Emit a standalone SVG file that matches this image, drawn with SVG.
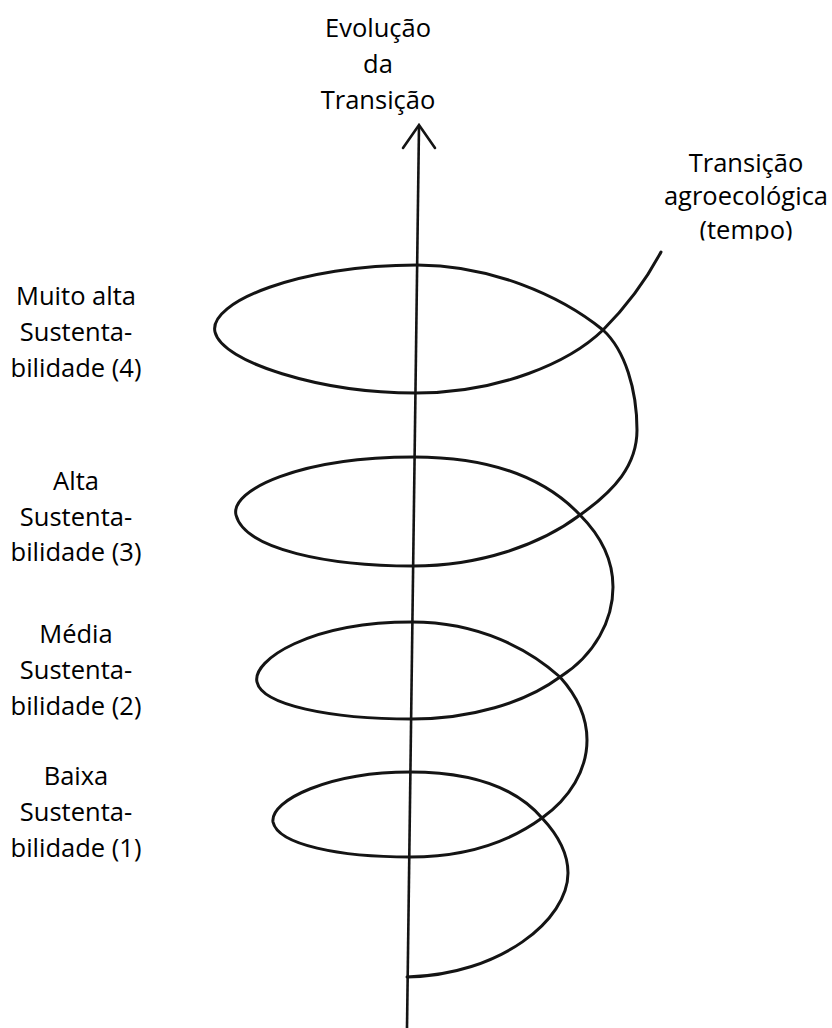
<svg xmlns="http://www.w3.org/2000/svg" width="832" height="1028" viewBox="0 0 832 1028">
  <style>
    .lbl { font-family: "Open Sans", "Liberation Sans", sans-serif; font-size: 25.5px; fill: #000; text-anchor: middle; }
    .curve { fill: none; stroke: #141414; stroke-width: 3; stroke-linecap: round; stroke-linejoin: round; }
    .axis { fill: none; stroke: #141414; stroke-width: 2.6; stroke-linecap: butt; }
    .head { fill: none; stroke: #141414; stroke-width: 2.6; stroke-linecap: round; stroke-linejoin: miter; }
  </style>
  <defs>
    <clipPath id="clipTempo">
      <rect x="600" y="200" width="232" height="40.5"/>
    </clipPath>
  </defs>
  <rect width="832" height="1028" fill="#ffffff"/>

  <g id="connectors">
    <g id="axis">
      <line class="axis" x1="407" y1="1028" x2="419" y2="126"/>
      <polyline class="head" points="403,148 419,125 435,148"/>
    </g>
    <path id="spiral" class="curve" d="M 661 252
      C 645 282, 625 308, 603 330
      C 570 362, 500 393, 416 393
      C 320 393, 222 362, 215 332
      C 208 302, 300 265, 417 265
      C 490 265, 560 295, 603 330
      C 625 350, 637 390, 637 430
      C 637 465, 615 490, 580 515
      C 540 545, 480 566, 413 566
      C 330 566, 245 550, 236 515
      C 230 490, 300 457, 414 457
      C 490 457, 545 478, 580 515
      C 600 535, 613 560, 613 587
      C 613 620, 595 655, 560 677
      C 525 703, 470 719, 412 719
      C 330 719, 262 705, 257 682
      C 252 660, 310 622, 412 622
      C 480 622, 530 650, 560 677
      C 578 697, 587 718, 587 740
      C 587 770, 570 798, 542 818
      C 505 845, 460 857, 410 857
      C 340 857, 278 845, 273 822
      C 270 800, 330 772, 410 772
      C 475 772, 518 790, 542 818
      C 558 835, 568 852, 568 873
      C 568 920, 500 975, 407 977"/>
  </g>

  <g id="label-evolucao">
    <text class="lbl" x="378" y="37">Evolução</text>
    <text class="lbl" x="378" y="73">da</text>
    <text class="lbl" x="378" y="109">Transição</text>
  </g>

  <g id="label-transicao-agroecologica">
    <text class="lbl" x="746" y="171.5">Transição</text>
    <text class="lbl" x="746" y="205">agroecológica</text>
    <text class="lbl" x="746" y="239" clip-path="url(#clipTempo)">(tempo)</text>
  </g>

  <g id="label-muito-alta">
    <text class="lbl" x="76" y="305">Muito alta</text>
    <text class="lbl" x="76" y="341">Sustenta-</text>
    <text class="lbl" x="76" y="377">bilidade (4)</text>
  </g>

  <g id="label-alta">
    <text class="lbl" x="76" y="490">Alta</text>
    <text class="lbl" x="76" y="525.5">Sustenta-</text>
    <text class="lbl" x="76" y="561">bilidade (3)</text>
  </g>

  <g id="label-media">
    <text class="lbl" x="76" y="643">Média</text>
    <text class="lbl" x="76" y="679">Sustenta-</text>
    <text class="lbl" x="76" y="715">bilidade (2)</text>
  </g>

  <g id="label-baixa">
    <text class="lbl" x="76" y="785">Baixa</text>
    <text class="lbl" x="76" y="821">Sustenta-</text>
    <text class="lbl" x="76" y="857">bilidade (1)</text>
  </g>
</svg>
